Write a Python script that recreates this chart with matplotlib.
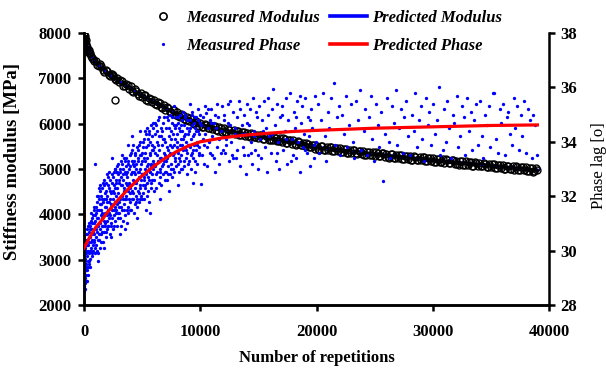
import numpy as np
import matplotlib
matplotlib.use('Agg')
import matplotlib.pyplot as plt
from matplotlib.lines import Line2D

# ---------------- data ----------------
mod_reps_early = [0, 20, 40, 60, 80, 100, 130, 160, 200, 250, 300, 350, 400, 450, 500, 600, 700, 800, 900]
mod_vals_early = [7970, 7950, 7900, 7930, 7860, 7800, 7840, 7760, 7720, 7690, 7650, 7610, 7620, 7560, 7550, 7500, 7450, 7420, 7380]

mod_reps_main = list(range(1000, 39001, 250))
mod_vals_main = [
    7390, 7265, 7275, 7145,
    7160, 7042, 7080, 6953,
    6910, 6940, 6820, 6855,
    6825, 6705, 6730, 6620,
    6585, 6625, 6505, 6545,
    6520, 6408, 6450, 6353,
    6310, 6353, 6255, 6298,
    6255, 6143, 6195, 6088,
    6060, 6102, 5995, 6043,
    6020, 5930, 5980, 5895,
    5885, 5945, 5845, 5910,
    5900, 5808, 5870, 5793,
    5770, 5833, 5755, 5818,
    5795, 5705, 5780, 5695,
    5690, 5750, 5660, 5725,
    5720, 5635, 5690, 5610,
    5605, 5668, 5570, 5638,
    5630, 5538, 5600, 5523,
    5500, 5560, 5480, 5540,
    5515, 5427, 5505, 5423,
    5420, 5482, 5395, 5463,
    5460, 5377, 5435, 5358,
    5355, 5422, 5330, 5403,
    5400, 5312, 5380, 5308,
    5290, 5357, 5285, 5353,
    5335, 5249, 5328, 5246,
    5245, 5309, 5222, 5291,
    5290, 5209, 5268, 5191,
    5190, 5259, 5167, 5241,
    5240, 5154, 5223, 5151,
    5135, 5204, 5132, 5201,
    5185, 5099, 5178, 5096,
    5095, 5159, 5072, 5141,
    5140, 5059, 5118, 5041,
    5040, 5109, 5017, 5091,
    5090, 5004, 5073, 5001,
    4985, 5054, 4982, 5051,
    5035, 4949, 5028, 4946,
    4980]

mod_reps_mid = list(range(1125, 38876, 250))
mod_vals_mid = [
    7287, 7308, 7173, 7193,
    7066, 7094, 6982, 7004,
    6955, 6840, 6880, 6765,
    6720, 6755, 6645, 6680,
    6643, 6528, 6568, 6468,
    6429, 6471, 6359, 6401,
    6369, 6266, 6309, 6196,
    6164, 6211, 6104, 6141,
    6116, 6014, 6056, 5954,
    5937, 5997, 5902, 5962,
    5952, 5862, 5917, 5827,
    5814, 5876, 5794, 5856,
    5844, 5751, 5814, 5731,
    5720, 5785, 5695, 5760,
    5755, 5670, 5730, 5645,
    5635, 5700, 5620, 5685,
    5674, 5581, 5644, 5561,
    5549, 5611, 5519, 5581,
    5572, 5482, 5537, 5447,
    5436, 5504, 5426, 5494,
    5486, 5399, 5466, 5389,
    5381, 5449, 5361, 5429,
    5426, 5344, 5406, 5324,
    5316, 5384, 5306, 5374,
    5366, 5279, 5346, 5269,
    5262, 5331, 5244, 5313,
    5312, 5231, 5294, 5213,
    5207, 5276, 5199, 5268,
    5262, 5176, 5244, 5168,
    5162, 5231, 5144, 5213,
    5212, 5131, 5194, 5113,
    5107, 5176, 5099, 5168,
    5162, 5076, 5144, 5068,
    5062, 5131, 5044, 5113,
    5112, 5031, 5094, 5013,
    5007, 5076, 4999, 5068,
    5062, 4976, 5044, 4968,
    4962, 5031, 4944, 5013]

mod_reps_extra = [2300, 2500, 2670]
mod_vals_extra = [7090, 7060, 6530]

pred_mod_reps = [0, 250, 500, 1000, 2000, 3000, 4000, 5000, 6000, 7000, 8000, 9000, 10000,
                 12000, 14000, 16000, 18000, 20000, 24000, 28000, 32000, 36000, 39000]
pred_mod_vals = [7950, 7700, 7550, 7350, 7130, 6940, 6780, 6620, 6480, 6350, 6220, 6090, 5980,
                 5860, 5760, 5680, 5590, 5480, 5360, 5250, 5150, 5050, 4975]

pred_phase_reps = [0, 250, 500, 1000, 1500, 2000, 2500, 3000, 4000, 5000, 6000, 7000, 8000, 9000,
                   10000, 12000, 14000, 16000, 18000, 20000, 25000, 30000, 35000, 39000]
pred_phase_deg = [30.1, 30.3, 30.5, 30.85, 31.1, 31.4, 31.65, 31.9, 32.35, 32.75, 33.1, 33.4, 33.65, 33.85,
                  34.0, 34.15, 34.25, 34.32, 34.38, 34.42, 34.5, 34.55, 34.6, 34.62]

phase_early = [
    (0, 28.5), (20, 28.7), (40, 29.0), (60, 28.8), (80, 29.4), (100, 29.1), (120, 29.7), (150, 28.9),
    (170, 29.9), (200, 29.5), (230, 30.2), (250, 29.3), (280, 29.8), (300, 30.4), (330, 29.6), (360, 30.0),
    (400, 30.7), (420, 29.9), (450, 30.3), (480, 30.9), (500, 29.7), (530, 30.5), (560, 31.1), (600, 30.1),
    (620, 30.6), (650, 29.9), (680, 31.2), (700, 30.4), (730, 30.8), (760, 30.0), (800, 31.3), (820, 30.6),
    (850, 31.0), (880, 30.3), (900, 31.5), (930, 30.8), (950, 33.2), (970, 31.1), (990, 30.5), (60, 29.6),
    (140, 30.2), (260, 30.6), (380, 29.4), (540, 30.0), (720, 29.8),
    (10, 29.2), (30, 29.8), (50, 28.6), (70, 30.1), (90, 29.0), (110, 30.4), (130, 29.3), (160, 30.6),
    (180, 29.1), (210, 30.0), (240, 28.9), (270, 30.8), (290, 29.4), (320, 30.2), (350, 29.1), (370, 30.9),
    (410, 29.6), (440, 31.0), (470, 29.5), (510, 30.8), (550, 29.4), (580, 30.3), (610, 31.4), (640, 30.0),
    (670, 30.6), (710, 31.0), (740, 30.2), (780, 30.7), (840, 30.4), (870, 31.6), (910, 30.1), (960, 31.3),
    (980, 29.9)]

phase_rise = [
    (1020, 31.4), (1050, 30.2), (1080, 31.8), (1110, 30.7), (1140, 31.2), (1170, 29.9), (1200, 32.0),
    (1230, 30.9), (1260, 31.5), (1290, 30.4), (1320, 31.9), (1350, 31.0), (1380, 30.1), (1410, 32.2),
    (1440, 31.3), (1470, 30.6), (1500, 31.7), (1530, 30.9), (1560, 32.3), (1590, 31.4), (1620, 30.3),
    (1650, 31.8), (1680, 31.1), (1710, 32.4), (1740, 30.7), (1770, 31.6), (1800, 32.1), (1830, 31.0),
    (1860, 30.5), (1890, 31.9), (1920, 32.5), (1950, 31.3), (1980, 30.8), (2010, 32.0), (2040, 31.5),
    (2070, 32.7), (2100, 30.9), (2130, 31.8), (2160, 32.3), (2190, 31.2), (2220, 30.6), (2250, 32.6),
    (2280, 31.7), (2310, 32.1), (2340, 31.0), (2370, 32.8), (2400, 33.4), (2430, 31.5), (2460, 32.2),
    (2490, 30.8), (2520, 31.9), (2550, 32.9), (2580, 31.3), (2610, 32.4), (2640, 31.8), (2670, 33.0),
    (2700, 31.1), (2730, 32.6), (2760, 32.0), (2790, 31.5), (2820, 33.1), (2850, 32.3), (2880, 31.7),
    (2910, 32.8), (2940, 31.2), (2970, 32.5), (1230, 29.6), (1700, 30.1), (2300, 30.5), (2800, 30.9),
    (1010, 30.8), (1060, 31.6), (1100, 30.0), (1130, 32.0), (1160, 31.5), (1190, 30.4), (1220, 31.2),
    (1250, 32.3), (1280, 31.0), (1310, 30.6), (1340, 31.7), (1370, 32.4), (1400, 30.8), (1430, 31.5),
    (1460, 32.0), (1490, 30.3), (1520, 31.2), (1550, 31.9), (1580, 30.7), (1610, 32.5), (1640, 31.3),
    (1670, 30.9), (1730, 31.9), (1760, 32.6), (1790, 30.9), (1820, 31.4), (1850, 32.2), (1880, 30.7),
    (1910, 31.6), (1940, 32.8), (1970, 31.8), (2000, 31.1), (2060, 30.9), (2090, 32.4), (2120, 31.4),
    (2150, 32.9), (2200, 31.9), (2240, 31.3), (2270, 32.2), (2330, 31.6), (2360, 30.9), (2390, 32.5),
    (2450, 31.2), (2480, 32.7), (2540, 31.5), (2570, 32.1), (2600, 30.9), (2630, 33.0), (2660, 32.3),
    (2690, 31.6), (2720, 32.9), (2750, 31.4), (2780, 32.5), (2830, 31.8), (2870, 32.9), (2900, 31.4),
    (2930, 32.1), (2960, 33.2), (2990, 31.6),
    (3020, 32.6), (3050, 31.4), (3090, 33.0), (3120, 31.9), (3160, 32.4), (3190, 30.9), (3230, 33.2),
    (3260, 32.0), (3300, 31.5), (3330, 32.8), (3370, 31.1), (3400, 32.3), (3440, 33.4), (3470, 31.7),
    (3510, 32.9), (3540, 31.3), (3580, 32.5), (3610, 33.1), (3650, 31.9), (3680, 32.7), (3720, 31.0),
    (3750, 33.3), (3790, 32.2), (3820, 31.6), (3860, 33.0), (3890, 32.4), (3930, 31.8), (3960, 33.5),
    (3990, 32.1),
    (3010, 31.8), (3060, 32.9), (3110, 31.2), (3140, 33.3), (3180, 32.7), (3210, 31.6), (3250, 32.4),
    (3280, 33.5), (3320, 31.9), (3350, 32.6), (3390, 33.0), (3420, 31.5), (3460, 32.2), (3490, 33.3),
    (3530, 31.9), (3570, 32.8), (3600, 32.0), (3640, 33.4), (3670, 31.5), (3710, 32.4), (3740, 32.9),
    (3780, 31.4), (3810, 33.2), (3850, 32.5), (3880, 31.9), (3920, 33.1), (3950, 32.3), (3980, 31.5),
    (4020, 32.8), (4060, 31.5), (4090, 33.3), (4130, 32.2), (4160, 33.7), (4200, 31.9), (4230, 32.6),
    (4270, 33.1), (4300, 31.4), (4340, 32.9), (4370, 33.6), (4410, 32.3), (4440, 31.8), (4480, 33.2),
    (4510, 32.5), (4550, 33.8), (4580, 31.6), (4620, 32.9), (4650, 33.4), (4690, 32.1), (4720, 32.7),
    (4760, 33.9), (4790, 31.9), (4830, 33.0), (4860, 32.4), (4900, 33.5), (4930, 32.0), (4970, 32.8),
    (4040, 32.4), (4080, 33.6), (4110, 31.9), (4150, 32.9), (4180, 33.2), (4220, 32.1), (4250, 33.9),
    (4290, 32.5), (4320, 33.3), (4360, 31.7), (4390, 32.8), (4430, 33.5), (4460, 32.0), (4500, 33.0),
    (4530, 31.9), (4570, 32.6), (4610, 33.7), (4640, 32.2), (4680, 33.3), (4710, 31.8), (4750, 32.9),
    (4780, 33.5), (4820, 32.3), (4850, 34.0), (4890, 32.6), (4920, 33.2), (4960, 31.9), (4990, 33.6),
    (5010, 33.3), (5050, 32.1), (5080, 33.8), (5120, 32.6), (5150, 34.1), (5190, 31.9), (5220, 33.0),
    (5260, 33.6), (5290, 32.4), (5330, 34.3), (5360, 32.8), (5400, 33.4), (5430, 32.0), (5470, 33.9),
    (5500, 32.7), (5540, 33.2), (5570, 34.4), (5610, 31.8), (5640, 33.5), (5680, 32.9), (5710, 34.0),
    (5750, 33.1), (5780, 32.3), (5820, 33.7), (5850, 34.2), (5890, 32.6), (5920, 33.3), (5960, 34.5),
    (5990, 32.2),
    (5030, 32.8), (5070, 34.0), (5100, 32.4), (5140, 33.4), (5170, 32.7), (5210, 34.4), (5240, 32.3),
    (5280, 33.3), (5310, 32.9), (5350, 33.8), (5380, 32.5), (5420, 34.5), (5450, 33.1), (5490, 32.2),
    (5520, 34.1), (5560, 33.0), (5590, 32.6), (5630, 34.3), (5660, 32.9), (5700, 33.6), (5730, 32.5),
    (5770, 34.6), (5800, 33.2), (5840, 32.8), (5870, 33.9), (5910, 34.7), (5940, 33.0), (5970, 33.7),
    (3100, 30.6), (3550, 30.8), (4100, 34.2), (4600, 31.2), (5300, 31.5), (5700, 31.4), (4800, 34.4),
    (3800, 33.9)]

phase_mid = [
    (6030, 33.8), (6060, 32.6), (6100, 34.3), (6130, 33.1), (6170, 32.3), (6200, 34.6), (6240, 33.5),
    (6270, 32.9), (6310, 34.0), (6340, 33.3), (6380, 34.8), (6410, 32.5), (6450, 33.7), (6480, 34.2),
    (6520, 33.0), (6550, 32.7), (6590, 34.5), (6620, 33.4), (6660, 32.4), (6690, 33.9), (6730, 34.4),
    (6760, 33.2), (6800, 32.8), (6830, 34.1), (6870, 33.6), (6900, 34.9), (6940, 32.6), (6970, 33.5),
    (7010, 34.0), (7050, 32.9), (7080, 34.5), (7120, 33.4), (7150, 32.6), (7190, 34.8), (7220, 33.7),
    (7260, 33.1), (7290, 34.2), (7330, 33.5), (7360, 35.0), (7400, 32.8), (7430, 33.9), (7470, 34.4),
    (7500, 33.2), (7540, 34.7), (7570, 32.7), (7610, 33.8), (7640, 34.3), (7680, 33.0), (7710, 34.6),
    (7750, 33.6), (7780, 32.9), (7820, 34.1), (7850, 33.4), (7890, 34.9), (7920, 33.1), (7960, 34.0),
    (8010, 34.3), (8050, 33.2), (8080, 34.7), (8120, 33.6), (8150, 32.9), (8190, 34.5), (8220, 33.9),
    (8260, 33.3), (8290, 35.0), (8330, 34.1), (8360, 33.5), (8400, 34.8), (8430, 33.0), (8470, 34.4),
    (8500, 35.1), (8540, 33.7), (8570, 34.2), (8610, 33.1), (8640, 34.6), (8680, 33.8), (8710, 34.9),
    (8750, 33.4), (8780, 34.0), (8820, 32.8), (8850, 34.5), (8890, 33.6), (8920, 34.3), (8960, 33.9),
    (9010, 34.4), (9050, 33.3), (9090, 34.8), (9130, 33.8), (9170, 34.1), (9210, 33.0), (9250, 34.6),
    (9290, 33.6), (9330, 35.0), (9370, 34.2), (9410, 33.4), (9450, 34.7), (9490, 33.9), (9530, 32.9),
    (9570, 34.5), (9610, 33.7), (9650, 34.9), (9690, 34.0), (9730, 33.2), (9770, 34.4), (9810, 35.2),
    (9850, 33.8), (9890, 34.3), (9930, 33.5), (9970, 34.7),
    (6500, 31.9), (7300, 32.2), (8100, 32.4), (9400, 32.5), (7700, 35.3), (9100, 35.4),
    (6010, 33.2), (6080, 34.7), (6150, 33.6), (6220, 32.8), (6290, 34.4), (6360, 33.9), (6430, 34.9),
    (6500, 33.4), (6570, 32.9), (6640, 34.2), (6710, 33.1), (6780, 34.7), (6850, 33.3), (6920, 34.1),
    (6990, 32.9), (7030, 33.3), (7100, 34.9), (7170, 33.8), (7240, 32.8), (7310, 34.5), (7380, 33.6),
    (7450, 34.1), (7520, 33.0), (7590, 34.9), (7660, 33.5), (7730, 33.9), (7800, 34.5), (7870, 33.3),
    (7940, 34.6), (8030, 33.8), (8100, 34.9), (8170, 33.4), (8240, 34.4), (8310, 33.0), (8380, 34.6),
    (8450, 33.9), (8520, 34.1), (8590, 33.3), (8660, 35.0), (8730, 34.3), (8800, 33.7), (8870, 34.8),
    (8940, 33.2), (9030, 33.9), (9110, 34.5), (9190, 33.5), (9270, 35.1), (9350, 33.7), (9430, 34.3),
    (9510, 34.9), (9590, 33.3), (9670, 34.4), (9750, 33.9), (9830, 34.8), (9910, 33.6), (9990, 35.0),
    (10050, 34.6), (10150, 33.5), (10250, 34.9), (10350, 33.9), (10450, 34.3), (10550, 33.1), (10650, 35.2),
    (10750, 34.0), (10850, 33.6), (10950, 34.7), (10100, 32.45), (10500, 35.05), (10900, 35.2), (10300, 33.2),
    (10700, 34.5),
    (11050, 34.2), (11150, 33.4), (11250, 35.0), (11350, 34.5), (11450, 33.8), (11550, 34.9), (11650, 33.2),
    (11750, 34.4), (11850, 35.3), (11950, 33.7), (11300, 32.9),
    (12050, 34.8), (12150, 33.6), (12250, 34.1), (12350, 35.4), (12450, 33.3), (12550, 34.6), (12650, 34.0),
    (12750, 33.5), (12850, 35.1), (12950, 34.3),
    (13050, 33.4), (13150, 34.9), (13250, 34.2), (13350, 35.5), (13450, 33.1), (13550, 34.6), (13650, 33.8),
    (13750, 35.0), (13850, 34.3), (13950, 32.8),
    (14050, 34.7), (14150, 33.5), (14250, 35.2), (14350, 34.0), (14450, 33.2), (14550, 35.6), (14650, 34.4),
    (14750, 33.7), (14850, 34.9), (14950, 33.0),
    (15050, 35.3), (15150, 34.1), (15250, 33.4), (15350, 34.8), (15450, 35.5), (15550, 33.8), (15650, 34.5),
    (15750, 32.9), (15850, 35.0), (15950, 34.2),
    (16050, 33.6), (16150, 35.2), (16300, 35.94), (16400, 34.6), (16500, 33.3), (16600, 35.4), (16700, 34.0),
    (16800, 33.0), (16900, 34.9),
    (17050, 35.3), (17150, 33.7), (17250, 34.4), (17350, 35.6), (17450, 33.2), (17550, 34.8), (17750, 35.8),
    (17850, 34.1), (17950, 33.5),
    (18050, 35.1), (18150, 34.5), (18250, 33.4), (18350, 35.5), (18450, 34.0), (18550, 32.9), (18650, 34.7),
    (18750, 35.3), (18850, 33.8), (18950, 34.3),
    (19050, 35.6), (19150, 33.6), (19250, 34.9), (19350, 34.2), (19450, 33.1), (19550, 35.2), (19650, 34.5),
    (19750, 33.9), (19850, 35.7), (19950, 34.0),
    (10200, 34.1), (10400, 35.3), (10600, 33.8), (10800, 34.8), (11000, 33.5), (11200, 34.7), (11400, 35.4),
    (11600, 34.1), (11800, 33.6), (12000, 35.0), (12200, 33.9), (12400, 34.7), (12600, 35.5), (12800, 33.4),
    (13000, 34.5), (13200, 33.7), (13400, 35.2), (13600, 34.3), (13800, 33.5), (14000, 35.4), (14200, 34.6),
    (14400, 33.6), (14600, 34.2), (14800, 35.1), (15000, 33.5), (15400, 34.4), (15800, 35.6), (16200, 34.3),
    (16600, 33.6), (17000, 35.0), (17400, 34.1), (17800, 33.3), (18200, 34.9), (18600, 35.7), (19000, 33.7),
    (19400, 34.8), (19800, 33.4)]

phase_late = [
    (20100, 35.4), (20250, 33.6), (20400, 34.8), (20550, 35.8), (20700, 34.2), (20850, 33.3), (20950, 35.1),
    (21100, 34.5), (21250, 35.6), (21470, 36.16), (21600, 33.9), (21750, 34.9), (21900, 35.3),
    (22050, 33.5), (22200, 35.0), (22350, 34.3), (22500, 35.7), (22650, 33.8), (22800, 34.6), (22950, 35.4),
    (23100, 34.0), (23250, 33.4), (23400, 35.5), (23550, 34.8), (23700, 35.9), (23850, 33.7),
    (24050, 34.4), (24200, 35.2), (24350, 33.5), (24500, 34.9), (24650, 35.7), (24800, 34.1), (24950, 33.3),
    (25100, 35.4), (25250, 34.6), (25400, 33.8), (25550, 35.1), (25700, 32.56), (25850, 34.3),
    (26050, 35.6), (26200, 34.0), (26350, 33.4), (26500, 35.3), (26650, 34.7), (26800, 35.9), (26950, 33.9),
    (27100, 34.5), (27250, 35.2), (27400, 33.6), (27550, 34.9), (27700, 35.5), (27850, 34.2),
    (28050, 33.5), (28200, 35.0), (28350, 34.4), (28500, 35.8), (28650, 33.8), (28800, 34.8), (28950, 35.3),
    (29100, 34.1), (29250, 33.3), (29400, 35.6), (29550, 34.6), (29700, 35.1), (29850, 33.9),
    (30050, 35.4), (30200, 34.3), (30350, 34.8), (30500, 36.0), (30650, 33.5), (30860, 33.7), (30950, 35.2),
    (31100, 34.0), (31250, 35.5), (31400, 34.5), (31550, 33.4), (31700, 35.0), (31850, 34.7),
    (32050, 35.7), (32200, 33.8), (32350, 34.2), (32500, 35.3), (32650, 34.9), (32800, 33.5), (32950, 35.6),
    (33100, 34.4), (33250, 35.1), (33400, 33.7), (33550, 34.8), (33700, 35.4), (33850, 33.9),
    (34050, 35.5), (34200, 34.2), (34350, 33.4), (34500, 35.0), (34650, 34.6), (34800, 35.3), (34950, 33.8),
    (35170, 35.8), (35300, 35.8), (35450, 34.1), (35600, 33.6), (35750, 35.2), (35900, 34.7),
    (36050, 35.4), (36200, 33.5), (36350, 34.9), (36500, 35.1), (36650, 34.3), (36800, 33.9), (36950, 35.6),
    (37100, 34.5), (37250, 35.3), (37400, 33.7), (37550, 35.0), (37700, 34.2), (37850, 35.5),
    (38050, 33.6), (38200, 35.2), (38350, 34.8), (38500, 33.4), (38650, 35.0), (38800, 34.6), (38950, 33.5)]

x_ticks = [0, 10000, 20000, 30000, 40000]
y_left_ticks = [2000, 3000, 4000, 5000, 6000, 7000, 8000]
y_right_ticks = [28, 30, 32, 34, 36, 38]
legend_labels = ['Measured Modulus', 'Measured Phase', 'Predicted Modulus', 'Predicted Phase']

# ---------------- figure ----------------
plt.rcParams['font.family'] = ['Liberation Serif', 'DejaVu Serif']
plt.rcParams['font.weight'] = 'bold'

W, H = 606, 373
fig = plt.figure(figsize=(W / 100, H / 100), dpi=100)
L, R, T, B = 84, 549, 33, 305
ax = fig.add_axes([L / W, 1 - B / H, (R - L) / W, (B - T) / H])

mod_reps = mod_reps_early + mod_reps_main + mod_reps_mid + mod_reps_extra
mod_vals = mod_vals_early + mod_vals_main + mod_vals_mid + mod_vals_extra

ax.plot(pred_mod_reps, pred_mod_vals, color='#0000ff', lw=2.2, zorder=1)
ax.plot(mod_reps, mod_vals, 'o', ms=5.0, mfc='none', mec='black', mew=1.0, ls='none', zorder=2)

ax.set_xlim(0, 40000)
ax.set_ylim(2000, 8000)
ax.set_xticks(x_ticks)
ax.set_yticks(y_left_ticks)

ax2 = ax.twinx()
phase = np.array(phase_early + phase_rise + phase_mid + phase_late)
ax2.plot(phase[:, 0], phase[:, 1], 'o', ms=2.4, color='#0000ff', mec='none', ls='none', zorder=2)
ax2.plot(pred_phase_reps, pred_phase_deg, color='#ff0000', lw=2.3, zorder=3)
ax2.set_ylim(28, 38)
ax2.set_yticks(y_right_ticks)

for a in (ax, ax2):
    a.spines['top'].set_visible(False)
    for s in ('left', 'right', 'bottom'):
        a.spines[s].set_linewidth(1.8)
ax.spines['right'].set_visible(False)

ax.tick_params(axis='y', direction='out', length=4, width=1.8, pad=5, labelsize=12)
ax.tick_params(axis='x', direction='out', length=4, width=1.8, pad=10, labelsize=12)
ax2.tick_params(axis='y', direction='out', length=4.3, width=1.8, pad=4, labelsize=12)

ax.set_xlabel('Number of repetitions', fontsize=12, fontweight='bold')
ax.xaxis.set_label_coords(0.5, -0.165)
ax.set_ylabel('Stiffness modulus [MPa]', fontsize=13.5, fontweight='bold')
ax.yaxis.set_label_coords((21 - L) / (R - L), (B - 162) / (B - T))
ax2.set_ylabel('Phase lag [o]', fontsize=12, fontweight='normal', rotation=90)
ax2.yaxis.set_label_coords((591 - L) / (R - L), (B - 166) / (B - T))

handles = [
    Line2D([], [], marker='o', ls='none', mfc='white', mec='black', ms=5.2, mew=1.2),
    Line2D([], [], marker='o', ls='none', color='#0000ff', mec='none', ms=2.3),
    Line2D([], [], color='#0000ff', lw=2.6),
    Line2D([], [], color='#ff0000', lw=2.6),
]
fig.legend(handles, legend_labels, loc='center', bbox_to_anchor=(323 / W, 1 - 32 / H), ncol=2,
           frameon=False, handlelength=2.2, handletextpad=0.3, columnspacing=0.6, labelspacing=0.75,
           borderaxespad=0, borderpad=0,
           prop={'family': ['Liberation Serif'], 'weight': 'bold', 'style': 'italic', 'size': 12})

fig.savefig('out.png', dpi=100)
